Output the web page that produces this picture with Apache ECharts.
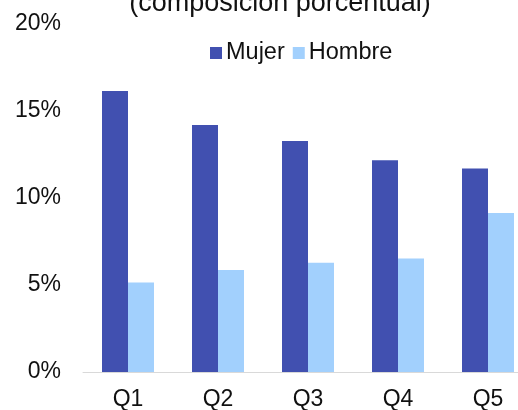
<!DOCTYPE html>
<html>
<head>
<meta charset="utf-8">
<script src="https://cdn.jsdelivr.net/npm/echarts@6/dist/echarts.min.js"></script>
<style>
  html, body { margin: 0; padding: 0; background: #fff; }
  #chart { width: 518px; height: 410px; }
</style>
</head>
<body>
<div id="chart"></div>
<script>
const categories = ['Q1', 'Q2', 'Q3', 'Q4', 'Q5']
const mujer = [16.15, 14.2, 13.28, 12.17, 11.69]
const hombre = [5.15, 5.86, 6.28, 6.53, 9.14]

const chart = echarts.init(document.getElementById('chart'))

const option = {
  animation: false,
  textStyle: { fontFamily: 'Liberation Sans, Arial, sans-serif' },
  title: {
    text: '(composición porcentual)',
    left: 275,
    textAlign: 'center',
    top: -15,
    textStyle: { fontSize: 27, fontWeight: 'normal', color: '#111' }
  },
  legend: {
    left: 205,
    top: 36,
    itemWidth: 12,
    itemHeight: 12,
    itemGap: 8,
    icon: 'rect',
    textStyle: { fontSize: 23.5, color: '#111', padding: [0, 0, 0, -1] },
    data: ['Mujer', 'Hombre']
  },
  grid: { left: 83, top: 24, width: 450, height: 348, outerBoundsMode: 'none' },
  xAxis: {
    type: 'category',
    data: categories,
    axisLine: { lineStyle: { color: '#d9d9d9' } },
    axisTick: { show: false },
    axisLabel: { fontSize: 23, color: '#111', margin: 16 }
  },
  yAxis: {
    type: 'value',
    min: 0,
    max: 20,
    interval: 5,
    splitLine: { show: false },
    axisLine: { show: false },
    axisTick: { show: false },
    axisLabel: { fontSize: 23, color: '#111', margin: 22, formatter: '{value}%' }
  },
  series: [
    {
      name: 'Mujer',
      type: 'bar',
      data: mujer,
      barWidth: 26,
      barGap: 0,
      itemStyle: { color: '#4150b0' }
    },
    {
      name: 'Hombre',
      type: 'bar',
      data: hombre,
      barWidth: 26,
      itemStyle: { color: '#a2d0fd' }
    }
  ]
}

chart.setOption(option)
</script>
</body>
</html>
